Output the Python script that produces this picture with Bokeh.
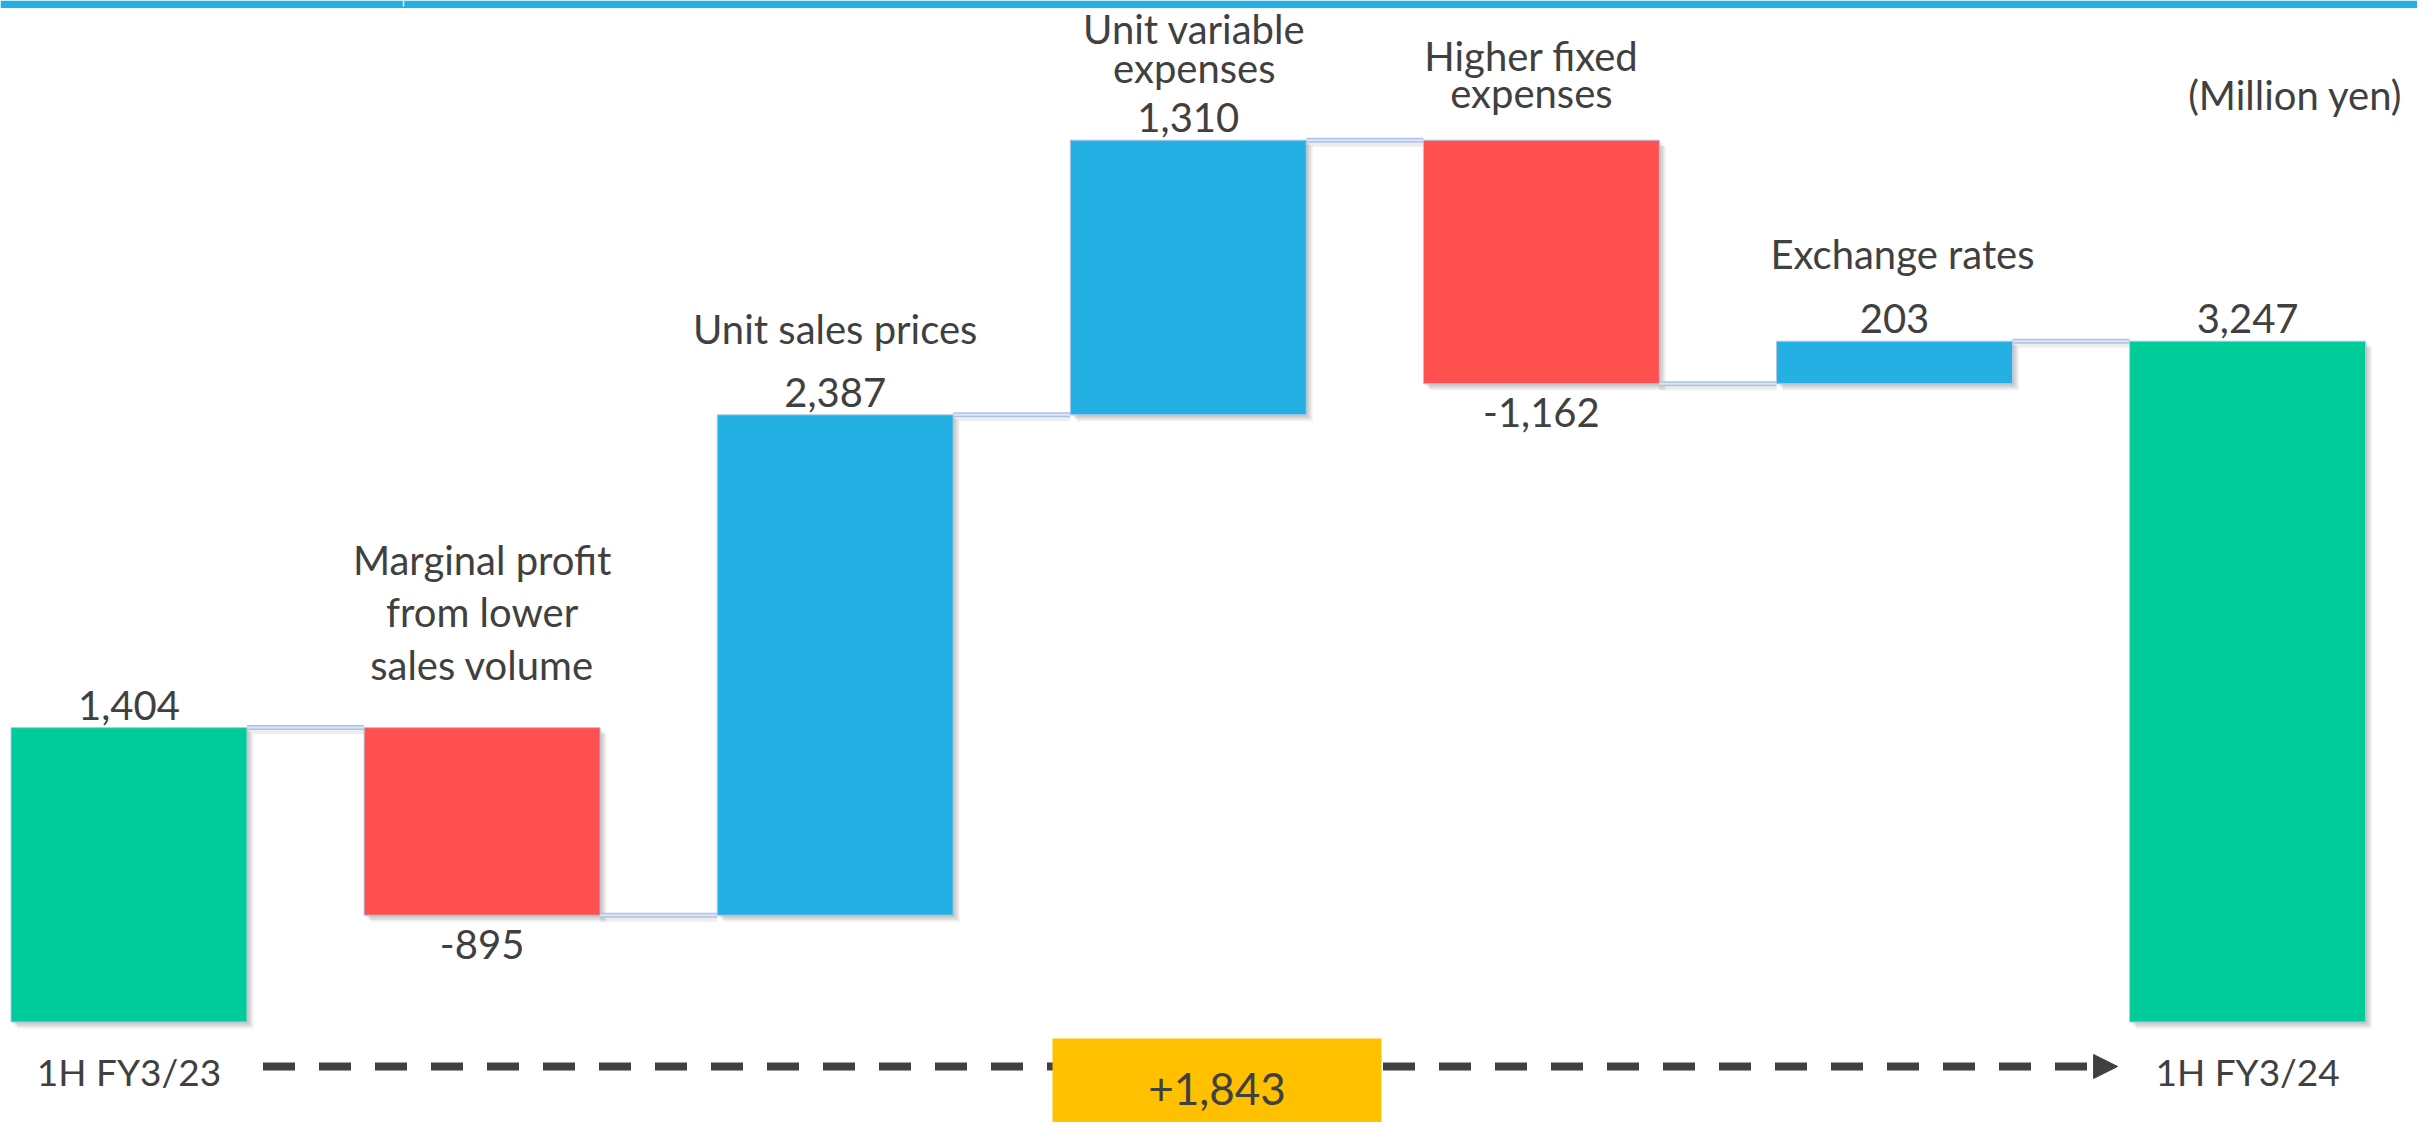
from bokeh.plotting import figure
from bokeh.models import Range1d, Arrow, NormalHead
from bokeh.embed import file_html
from bokeh.resources import INLINE
from bokeh.core.properties import value

# ---------------- data ----------------
categories = [
    "1H FY3/23",
    "Marginal profit\nfrom lower\nsales volume",
    "Unit sales prices",
    "Unit variable\nexpenses",
    "Higher fixed\nexpenses",
    "Exchange rates",
    "1H FY3/24",
]
start_value = 1404
changes = [-895, 2387, 1310, -1162, 203]
end_value = 3247
unit_label = "(Million yen)"

# ---------------- style / layout ----------------
W, H = 2417, 1122
PX_X = 353.1              # px per category step
PX_Y = 0.20967            # px per million yen
X0_PX = 128.5             # screen x of first bar centre
ZERO_PX = 1021.5          # screen y of zero line
BAR_W = 236 / PX_X

GREEN, BLUE, RED = "#00CC99", "#25B0E4", "#FF5050"
YELLOW = "#FFC000"
TXT = "#404040"
FONT = value("Lato")
FS = "40px"
AXIS_FS = "37px"
BOX_FS = "44px"

# rendering corrections for text baseline (px)
FIX_MAIN = 12.5
FIX_AXIS = 16.8
FIX_BOX = 18.5
FIX_UNIT = 13.5

# per-category name offsets: (dx px, [baseline px above bar top per line])
name_offsets = {
    1: (0, [-155, -103, -50]),
    2: (0, [-73]),
    3: (6, [-99, -60]),
    4: (-10, [-72, -35]),
    5: (8, [-75]),
}

def dx(px):
    return px / PX_X

def dy(px):
    return px / PX_Y

p = figure(width=W, height=H, output_backend="svg", toolbar_location=None,
           x_range=Range1d(-X0_PX / PX_X, (W - X0_PX) / PX_X),
           y_range=Range1d(-(H - ZERO_PX) / PX_Y, ZERO_PX / PX_Y),
           min_border=0, background_fill_color="white", border_fill_color="white")
p.axis.visible = False
p.grid.visible = False
p.outline_line_color = None
p.xaxis.visible = False
p.yaxis.visible = False

# ---------------- bars ----------------
levels = [start_value]
for c in changes:
    levels.append(levels[-1] + c)

n = len(categories)
xs = list(range(n))
bottoms, tops, colors = [], [], []
for i in xs:
    if i == 0:
        b, t, col = 0, start_value, GREEN
    elif i == n - 1:
        b, t, col = 0, end_value, GREEN
    else:
        c = changes[i - 1]
        b, t = min(levels[i - 1], levels[i]), max(levels[i - 1], levels[i])
        col = BLUE if c > 0 else RED
    bottoms.append(b)
    tops.append(t)
    colors.append(col)

lefts = [x - BAR_W / 2 for x in xs]
rights = [x + BAR_W / 2 for x in xs]

# soft drop shadow
for k in range(1, 5):
    p.quad(left=[l + dx(1.6 * k) for l in lefts], right=[r + dx(1.6 * k) for r in rights],
           top=[t - dy(1.6 * k) for t in tops], bottom=[b - dy(1.6 * k) for b in bottoms],
           fill_color="black", fill_alpha=0.06, line_color=None)

# connectors
c_x0 = [rights[i] for i in range(n - 1)]
c_x1 = [lefts[i + 1] for i in range(n - 1)]
c_y = levels
p.segment(x0=c_x0, x1=c_x1, y0=[y - dy(4) for y in c_y], y1=[y - dy(4) for y in c_y],
          line_color="black", line_alpha=0.07, line_width=5)
p.segment(x0=c_x0, x1=c_x1, y0=c_y, y1=c_y, line_color="#AFC2E6", line_width=5)
p.segment(x0=c_x0, x1=c_x1, y0=c_y, y1=c_y, line_color="#DCE5F5", line_width=2)

p.quad(left=lefts, right=rights, top=tops, bottom=bottoms,
       fill_color=colors, line_color="#B4C7E7", line_width=1)

# ---------------- value labels ----------------
vx, vy, vt = [], [], []
for i in xs:
    if i == 0:
        v = start_value
    elif i == n - 1:
        v = end_value
    else:
        v = changes[i - 1]
    vx.append(i)
    if v >= 0:
        vy.append(tops[i] + dy(10) + dy(FIX_MAIN))
    else:
        vy.append(bottoms[i] - dy(41.5) + dy(FIX_MAIN))
    vt.append(f"{v:,}")
p.text(x=vx, y=vy, text=vt, text_font=FONT, text_font_size=FS, text_color=TXT,
       text_align="center", text_baseline="alphabetic")

# ---------------- category names ----------------
nx, ny, nt = [], [], []
ax_x, ax_y, ax_t = [], [], []
for i in xs:
    lines = categories[i].split("\n")
    if i in (0, n - 1):
        ax_x.append(i)
        ax_y.append(-dy(66) + dy(FIX_AXIS))
        ax_t.append(lines[0])
    else:
        off_x, offs = name_offsets[i]
        for line, o in zip(lines, offs):
            nx.append(i + dx(off_x))
            ny.append(tops[i] - dy(o) + dy(FIX_MAIN))
            nt.append(line)
p.text(x=nx, y=ny, text=nt, text_font=FONT, text_font_size=FS, text_color=TXT,
       text_align="center", text_baseline="alphabetic")
p.text(x=ax_x, y=ax_y, text=ax_t, text_font=FONT, text_font_size=AXIS_FS, text_color=TXT,
       text_align="center", text_baseline="alphabetic")

# unit label (top right)
p.text(x=[(2402 - X0_PX) / PX_X], y=[dy(ZERO_PX - 108) + dy(FIX_UNIT)], text=[unit_label], text_font=FONT,
       text_font_size=FS, text_color=TXT, text_align="right", text_baseline="alphabetic")

# ---------------- total change box & dashed arrow ----------------
arrow_y = -dy(44.5)
p.add_layout(Arrow(end=NormalHead(size=24, fill_color=TXT, line_color=TXT, line_width=1),
                   x_start=rights[0] + dx(16), y_start=arrow_y,
                   x_end=lefts[-1] - dx(12), y_end=arrow_y,
                   line_color=TXT, line_width=8, line_dash="32 24", level="underlay"))

box_l = (1052 - X0_PX) / PX_X
box_r = (1381 - X0_PX) / PX_X
p.quad(left=[box_l], right=[box_r], top=[-dy(16.5)], bottom=[-dy(H - ZERO_PX + 20)],
       fill_color=YELLOW, line_color=None)
p.text(x=[(box_l + box_r) / 2], y=[-dy(85.5) + dy(FIX_BOX)], text=[f"+{end_value - start_value:,}"],
       text_font=FONT, text_font_size=BOX_FS, text_color=TXT,
       text_align="center", text_baseline="alphabetic")

# ---------------- top band ----------------
xr0, xr1 = p.x_range.start, p.x_range.end
yr1 = p.y_range.end
p.quad(left=[xr0], right=[xr1], top=[yr1], bottom=[yr1 - dy(7.5)], fill_color="#25B0E4", line_color=None)
p.segment(x0=[(403 - X0_PX) / PX_X], x1=[(403 - X0_PX) / PX_X], y0=[yr1], y1=[yr1 - dy(6)],
          line_color="#D6EEFA", line_width=1.5)

open("out.html", "w").write(file_html(p, INLINE))
